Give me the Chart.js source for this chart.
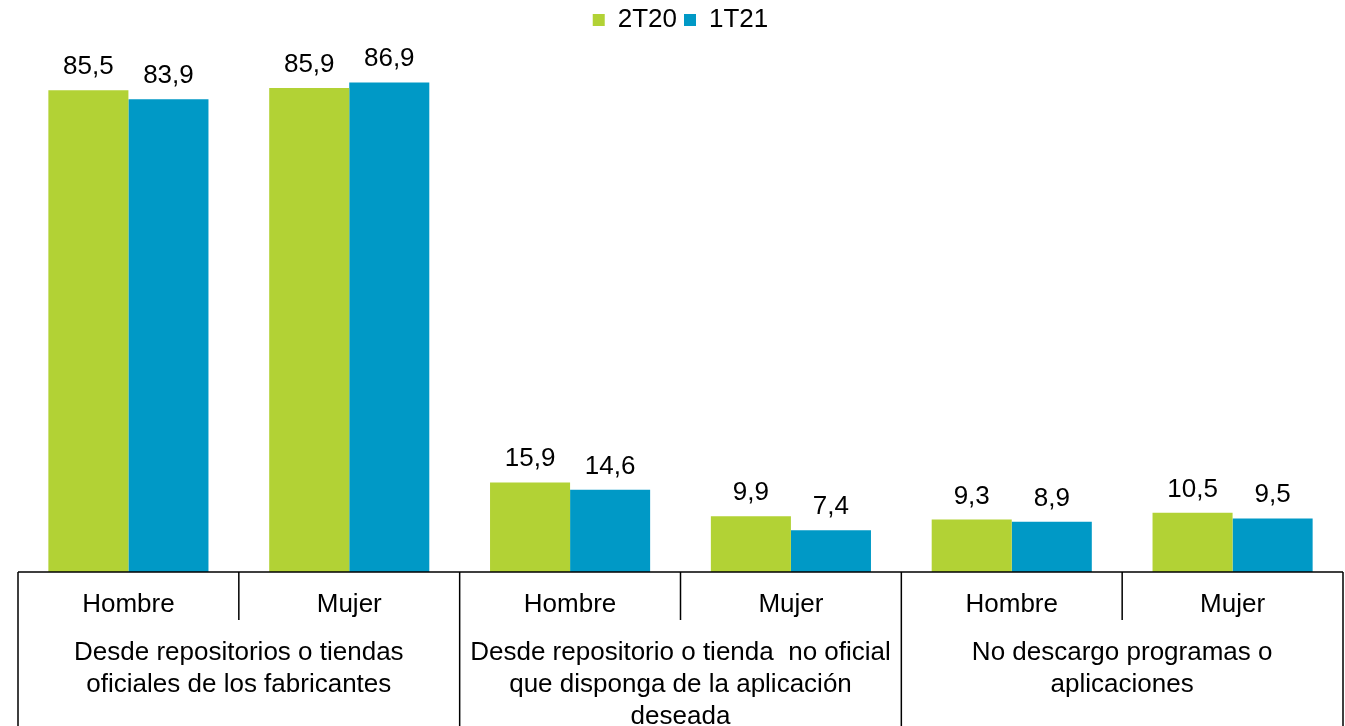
<!DOCTYPE html>
<html>
<head>
<meta charset="utf-8">
<script src="https://cdn.jsdelivr.net/npm/chart.js@4/dist/chart.umd.min.js"></script>
<style>
  body { margin: 0; background: #fff; }
  #wrap { width: 1345px; height: 726px; }
</style>
</head>
<body>
<div id="wrap"><canvas id="chart" width="1345" height="726"></canvas></div>
<script>
// Data
const subLabels = ['Hombre', 'Mujer', 'Hombre', 'Mujer', 'Hombre', 'Mujer'];
const groupLabels = [
    ['Desde repositorios o tiendas', 'oficiales de los fabricantes'],
    ['Desde repositorio o tienda  no oficial', 'que disponga de la aplicación', 'deseada'],
    ['No descargo programas o', 'aplicaciones']
];
const values2T20 = [85.5, 85.9, 15.9, 9.9, 9.3, 10.5];
const values1T21 = [83.9, 86.9, 14.6, 7.4, 8.9, 9.5];

const FONT = 'Arial, "Liberation Sans", sans-serif';

// value labels above bars
const valueLabels = {
    id: 'valueLabels',
    afterDatasetsDraw(chart) {
        const ctx = chart.ctx;
        ctx.save();
        ctx.font = '26px ' + FONT;
        ctx.fillStyle = '#000';
        ctx.textAlign = 'center';
        ctx.textBaseline = 'alphabetic';
        chart.data.datasets.forEach((ds, i) => {
            chart.getDatasetMeta(i).data.forEach((bar, j) => {
                ctx.fillText(ds.data[j].toFixed(1).replace('.', ','), bar.x, bar.y - 16);
            });
        });
        ctx.restore();
    }
};

// category table under the axis
const categoryTable = {
    id: 'categoryTable',
    afterDraw(chart) {
        const ctx = chart.ctx;
        const x = chart.scales.x;
        const area = chart.chartArea;
        const bottom = chart.height;
        const half = (x.getPixelForValue(1) - x.getPixelForValue(0)) / 2;
        ctx.save();
        ctx.strokeStyle = '#000';
        ctx.lineWidth = 1.5;
        ctx.beginPath();
        ctx.moveTo(area.left, area.bottom);
        ctx.lineTo(area.right, area.bottom);
        // group borders
        for (let g = 0; g <= groupLabels.length; g++) {
            const px = g < groupLabels.length ? x.getPixelForValue(g * 2) - half : area.right;
            ctx.moveTo(px, area.bottom);
            ctx.lineTo(px, bottom);
        }
        // sub borders
        for (let g = 0; g < groupLabels.length; g++) {
            const px = x.getPixelForValue(g * 2) + half;
            ctx.moveTo(px, area.bottom);
            ctx.lineTo(px, area.bottom + 48);
        }
        ctx.stroke();

        ctx.font = '26px ' + FONT;
        ctx.fillStyle = '#000';
        ctx.textAlign = 'center';
        ctx.textBaseline = 'middle';
        subLabels.forEach((lbl, i) => {
            ctx.fillText(lbl, x.getPixelForValue(i), area.bottom + 33);
        });
        groupLabels.forEach((lines, g) => {
            const cx = x.getPixelForValue(g * 2) + half;
            lines.forEach((line, k) => {
                ctx.fillText(line, cx, area.bottom + 81 + k * 32);
            });
        });
        ctx.restore();
    }
};

new Chart(document.getElementById('chart'), {
    type: 'bar',
    data: {
        labels: subLabels,
        datasets: [
            { label: '2T20', data: values2T20, backgroundColor: '#b2d235' },
            { label: '1T21', data: values1T21, backgroundColor: '#0099c6' }
        ]
    },
    options: {
        responsive: false,
        animation: false,
        layout: { padding: { left: 18, right: 2, top: 0, bottom: 154 } },
        datasets: { bar: { categoryPercentage: 0.725, barPercentage: 1 } },
        scales: {
            x: { display: false },
            y: { display: false, min: 0, max: 93.9 }
        },
        plugins: {
            legend: {
                position: 'top',
                labels: {
                    boxWidth: 12,
                    boxHeight: 12,
                    padding: 7,
                    color: '#000',
                    font: { size: 26, family: FONT }
                }
            },
            tooltip: { enabled: false }
        }
    },
    plugins: [valueLabels, categoryTable]
});
</script>
</body>
</html>
